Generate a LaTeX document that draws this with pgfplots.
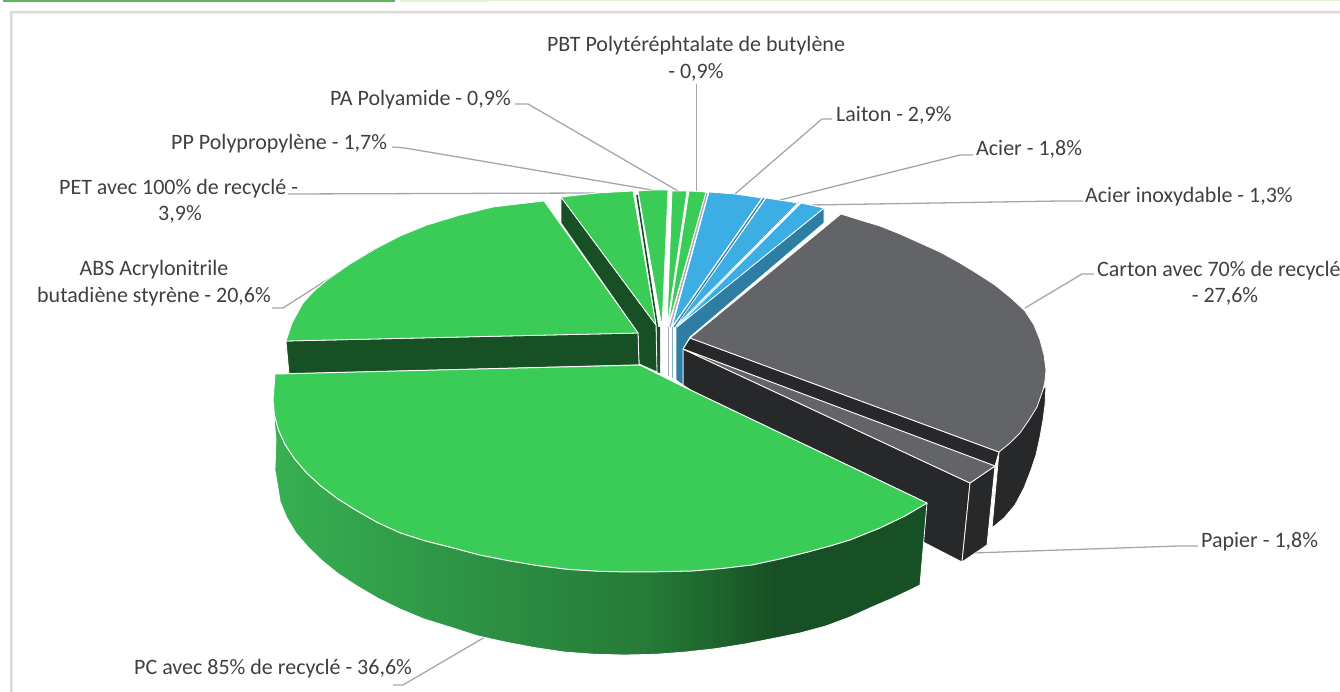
\documentclass[border=0pt]{standalone}
\usepackage{pgfplots}
\pgfplotsset{compat=1.18}
\usepackage{fontspec}
\setmainfont{Carlito}
\definecolor{gtop}{HTML}{3BCC58}
\definecolor{gdark}{HTML}{175024}
\definecolor{gleft}{HTML}{37B052}
\definecolor{gb}{HTML}{2C8E43}
\definecolor{gc}{HTML}{257A37}
\definecolor{gd}{HTML}{1F6A2E}
\definecolor{btop}{HTML}{3DAEE3}
\definecolor{bside}{HTML}{2E7DA3}
\definecolor{gry}{HTML}{636468}
\definecolor{blk}{HTML}{27282A}
\definecolor{lead}{HTML}{A6A6A6}
\definecolor{txt}{HTML}{404040}
\definecolor{frm}{HTML}{D9D9D9}
\definecolor{barg}{HTML}{5CB85C}
\definecolor{barl}{HTML}{DFF0D8}
\definecolor{lav}{HTML}{A9A6C4}
\pgfdeclarehorizontalshading{pcside}{100bp}{color(0bp)=(gleft); color(25bp)=(gleft); color(42.35bp)=(gb); color(53.8bp)=(gc); color(57.6bp)=(gd); color(63.4bp)=(gdark); color(100bp)=(gdark)}
\tikzset{
  face/.style={fill=#1,draw=white,line width=0.8pt},
  flat/.style={fill=#1,draw=none},
  ldr/.style={draw=lead,line width=1.3pt},
  lab/.style={font=\fontsize{22bp}{26bp}\selectfont,text=txt,inner sep=0pt,anchor=west},
  labc/.style={font=\fontsize{22bp}{26bp}\selectfont,text=txt,inner sep=0pt,anchor=center}}
\begin{document}
\begin{tikzpicture}
\clip (0,0) rectangle (1340bp,692bp);
\begin{axis}[at={(0,0)},anchor=south west,scale only axis,width=1340bp,height=692bp,
  xmin=0,xmax=1340,ymin=0,ymax=692,y dir=reverse,hide axis,clip=false,no markers,
  every axis plot/.append style={line join=round}]
% page furniture
\addplot[flat=frm] coordinates {(10,11)(1340,11)(1340,13.5)(12.5,13.5)(12.5,692)(10,692)} --cycle;
\addplot[flat=barg] coordinates {(3,0)(395,0)(395,2)(3,2)} --cycle;
\addplot[flat=barl] coordinates {(400,0)(489,0)(489,2)(400,2)} --cycle;
\addplot[flat=barl] coordinates {(489,0)(1340,0)(1340,1)(489,1)} --cycle;
% leaders
\addplot[ldr] coordinates {(696.5,84)(696.5,192)};
\addplot[ldr] coordinates {(832,119)(822,119)(735,194)};
\addplot[ldr] coordinates {(973,155)(960,155)(780,200)};
\addplot[ldr] coordinates {(1083,201)(1060,201)(812,205)};
\addplot[ldr] coordinates {(1094,274)(1082,274)(1025,308)};
\addplot[ldr] coordinates {(1198,546)(1178,546)(972,553)};
\addplot[ldr] coordinates {(393,685)(403,685)(485,637)};
\addplot[ldr] coordinates {(272,308)(283,308)(375,249)};
\addplot[ldr] coordinates {(288,194)(595,193)};
\addplot[ldr] coordinates {(392,147)(405,148)(652,190)};
\addplot[ldr] coordinates {(515,104)(528,104)(678,191)};
% carton side, papier side
\addplot[face=blk] coordinates {(999,452)(1046,385)(1045,405)(1043,420)(1040,437)(1036,455)(1031,470)(1024,488)(1015,505)(1004,518)(992,528)} --cycle;
\addplot[face=blk] coordinates {(690,338)(999,452)(995,466)(683,349)} --cycle;
\addplot[face=blk] coordinates {(683,349)(970,483)(962,562)(925,543)(683,385)} --cycle;
\addplot[face=blk] coordinates {(970,483)(995,466)(987,545)(962,562)} --cycle;
\addplot[face=gry] coordinates {(683,349)(995,466)(970,483)} --cycle;
\addplot[face=gry] coordinates {(690,338)(841,214)(860,220)(880,226)(900,234)(920,243)(940,252)(960,263)(978,274)(995,285)(1011,298)(1025,311)(1034,325)(1040,340)(1044,355)(1046,370)(1045,381)(1043,390)(1037,407)(1029,420)(1020,433)(1010,443)(999,452)} --cycle;
% blue side and tops
\addplot[face=bside] coordinates {(676,327)(824,208)(824,223)(690,337)(683,349)(683,385)(676,380)} --cycle;
\addplot[face=btop] coordinates {(677,327)(801,203)(824,208)} --cycle;
\addplot[draw=bside!35,line width=1pt] coordinates {(799,202)(676,327)};
\addplot[face=btop] coordinates {(675,327)(766,198)(798,203)} --cycle;
\addplot[draw=bside,line width=1.2pt] coordinates {(764,198)(674,327)};
\addplot[face=btop] coordinates {(672,327)(709,192)(735,194)(762,198)} --cycle;
\addplot[draw=lav,line width=1.3pt] coordinates {(707,193)(670,327)};
\addplot[draw=lav,line width=1pt] coordinates {(668,327)(668,376)};
\addplot[draw=bside!60,line width=1pt] coordinates {(672,327)(672,378)};
% green slices
\addplot[face=gtop] coordinates {(668,327)(689,191)(706,192)} --cycle;
\addplot[face=gtop] coordinates {(667,327)(672,191)(687,191)} --cycle;
\addplot[flat=gdark] coordinates {(656.5,327)(660,327)(660,373)(656.5,372)} --cycle;
\addplot[draw=gdark,line width=1.6pt] coordinates {(637,195)(657.5,327)};
\addplot[face=gtop] coordinates {(662,327)(638,191)(652,190)(668,190)} --cycle;
% ABS + PET sides
\addplot[face=gdark] coordinates {(561,197)(656,325)(657,372)(639,364)(638,333)(561,223)} --cycle;
\addplot[face=gtop] coordinates {(561,197)(597,193)(633,191)(656,325)} --cycle;
\addplot[face=gdark] coordinates {(286,341)(638,333)(639,365)(289,374)} --cycle;
\addplot[face=gtop] coordinates {(638,333)(286,341)(292,323)(303,303)(314,291)(327,280)(350,264)(375,249)(400,236)(427,225)(460,215)(493,207)(518,204)(544,201)} --cycle;
% PC
\addplot[shading=pcside,draw=white,line width=0.8pt] coordinates {(273,400)(274,415)(276,440)(275,470)(280.3,502)(287,518)(296,533)(308,547)(322,560.5)(338,573.5)(357,586)(377.5,598)(400,609)(424,619)(450,627)(477,635.7)(505,642)(534,647.5)(564,652)(594.5,654.3)(625,655)(655.5,654.3)(686,652)(715.6,648.7)(745,644)(773,638.5)(800,633)(826,626)(850,617)(872,607)(893,598)(912,589)(920,585)(927,503)(630,450)} --cycle;
\addplot[fill=gtop,draw=white,line width=1pt] coordinates {(640,365)(680,385)(927,503)(905,516)(880,528)(850,540)(830,546)(808,552)(780,559)(752,565)(722,568.5)(692,571)(662,571.7)(630,572)(598.9,571.3)(568,569.4)(537.6,565.6)(507.9,560.6)(479.1,554.9)(451.5,547.5)(425.2,540.9)(400.5,533)(377.6,522.6)(356.5,510.6)(337.6,498.7)(320.8,486)(306.4,472.7)(294.5,458.8)(285,444.5)(278.4,429.9)(274.4,415)(273,400)(275,374)} --cycle;
% labels
\node[labc] at (axis cs:696,45.5) {PBT Polytéréphtalate de butylène};
\node[labc] at (axis cs:696,72) {- 0,9\%};
\node[lab] at (axis cs:836,115.5) {Laiton - 2,9\%};
\node[lab] at (axis cs:976,149.5) {Acier - 1,8\%};
\node[lab] at (axis cs:1085,196.5) {Acier inoxydable - 1,3\%};
\node[lab] at (axis cs:1097,270.5) {Carton avec 70\% de recyclé};
\node[labc] at (axis cs:1225,296.5) {- 27,6\%};
\node[lab] at (axis cs:1201,541.5) {Papier - 1,8\%};
\node[lab] at (axis cs:134,668.5) {PC avec 85\% de recyclé - 36,6\%};
\node[labc] at (axis cs:154,269.5) {ABS Acrylonitrile};
\node[labc] at (axis cs:154,296.5) {butadiène styrène - 20,6\%};
\node[lab] at (axis cs:59,188.5) {PET avec 100\% de recyclé -};
\node[labc] at (axis cs:180,214.5) {3,9\%};
\node[lab] at (axis cs:171,143.5) {PP Polypropylène - 1,7\%};
\node[lab] at (axis cs:330,99.5) {PA Polyamide - 0,9\%};
\end{axis}
\end{tikzpicture}
\end{document}
